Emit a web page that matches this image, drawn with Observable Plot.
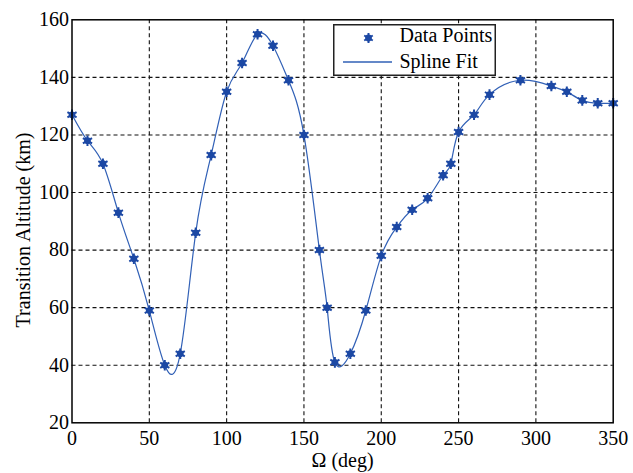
<!DOCTYPE html>
<html>
<head>
<meta charset="utf-8">
<script src="https://cdn.jsdelivr.net/npm/d3@7"></script>
<script src="https://cdn.jsdelivr.net/npm/@observablehq/plot@0.6"></script>
<style>
  html, body { margin: 0; padding: 0; background: #fff; }
  #wrap { position: relative; width: 633px; height: 473px; font-family: "Liberation Serif", "Times New Roman", serif; }
  #wrap svg { font-family: "Liberation Serif", "Times New Roman", serif !important; font-size: 20px !important; }
  #legend { position: absolute; left: 332.5px; top: 24px; width: 163px; height: 52px; box-sizing: border-box; }
  #ylabel { position: absolute; left: 23px; top: 230px; transform: translate(-50%, -50%) rotate(-90deg); white-space: nowrap; font-size: 20px; line-height: 1; color: #000; }
</style>
</head>
<body>
<div id="wrap"></div>
<script>
// Ω (deg) of each data point
const omega = [0, 10, 20, 30, 40, 50, 60, 70, 80, 90, 100, 110, 120, 130, 140, 150, 160, 165, 170, 180, 190, 200,
  210, 220, 230, 240, 245, 250, 260, 270, 290, 310, 320, 330, 340, 350];
// Transition altitude (km)
const altitude = [127, 118, 110, 93, 77, 59, 40, 44, 86, 113, 135, 145, 155, 151, 139, 120, 80, 60, 41, 44, 59, 78,
  88, 94, 98, 106, 110, 121, 127, 134, 139, 137, 135, 132, 131, 131];
const xTicks = [0, 50, 100, 150, 200, 250, 300, 350];
const yTicks = [20, 40, 60, 80, 100, 120, 140, 160];
const seriesNames = ["Data Points", "Spline Fit"];
const xLabel = "Ω (deg)";
const yLabel = "Transition Altitude (km)";

const data = omega.map((x, i) => ({x, y: altitude[i]}));
const gridX = xTicks.slice(1, -1);
const gridY = yTicks.slice(1, -1);

const markerColor = "#1c48a4";
const lineColor = "#3160b6";

const chart = Plot.plot({
  width: 633,
  height: 473,
  marginLeft: 71.5,
  marginRight: 20.3,
  marginTop: 19.3,
  marginBottom: 50.7,
  style: {fontSize: "20px", background: "white", color: "black"},
  x: {domain: [0, 350]},
  y: {domain: [20, 160]},
  marks: [
    Plot.ruleX(gridX, {stroke: "#111", strokeDasharray: "4,3", strokeWidth: 1.1}),
    Plot.ruleY(gridY, {stroke: "#111", strokeDasharray: "4,3", strokeWidth: 1.1}),
    Plot.line(data, {x: "x", y: "y", curve: "natural", stroke: lineColor, strokeWidth: 1.2}),
    Plot.dot(data, {x: "x", y: "y", r: 3.4, fill: markerColor}),
    Plot.dot(data, {x: "x", y: "y", symbol: "asterisk", r: 5, stroke: markerColor, strokeWidth: 2}),
    Plot.frame({stroke: "black", strokeWidth: 1.5}),
    Plot.axisX({ticks: xTicks, tickSize: 0, tickPadding: 8, label: xLabel, labelAnchor: "center", labelArrow: "none", labelOffset: 44}),
    Plot.axisY({ticks: yTicks, tickSize: 0, tickPadding: 3, label: null})
  ]
});

const wrap = document.getElementById("wrap");
wrap.appendChild(chart);

// Y axis title
const yl = document.createElement("div");
yl.id = "ylabel";
yl.textContent = yLabel;
wrap.appendChild(yl);

// Legend box inside the plot area
const legend = document.createElement("div");
legend.id = "legend";
legend.innerHTML = `
<svg width="163" height="52" xmlns="http://www.w3.org/2000/svg" style="display:block;font-family:'Liberation Serif','Times New Roman',serif;font-size:20px">
  <rect x="0.75" y="0.75" width="161.5" height="50.5" fill="white" stroke="#222" stroke-width="1.5"/>
  <circle cx="35.5" cy="14" r="3.4" fill="${markerColor}"/>
  <path d="M35.5,9 V19 M31.2,11.5 L39.8,16.5 M31.2,16.5 L39.8,11.5" stroke="${markerColor}" stroke-width="2"/>
  <text x="66.5" y="18" fill="black">${seriesNames[0]}</text>
  <line x1="10" y1="38" x2="59" y2="38" stroke="${lineColor}" stroke-width="1.3"/>
  <text x="66.5" y="44" fill="black">${seriesNames[1]}</text>
</svg>`;
wrap.appendChild(legend);
</script>
</body>
</html>
